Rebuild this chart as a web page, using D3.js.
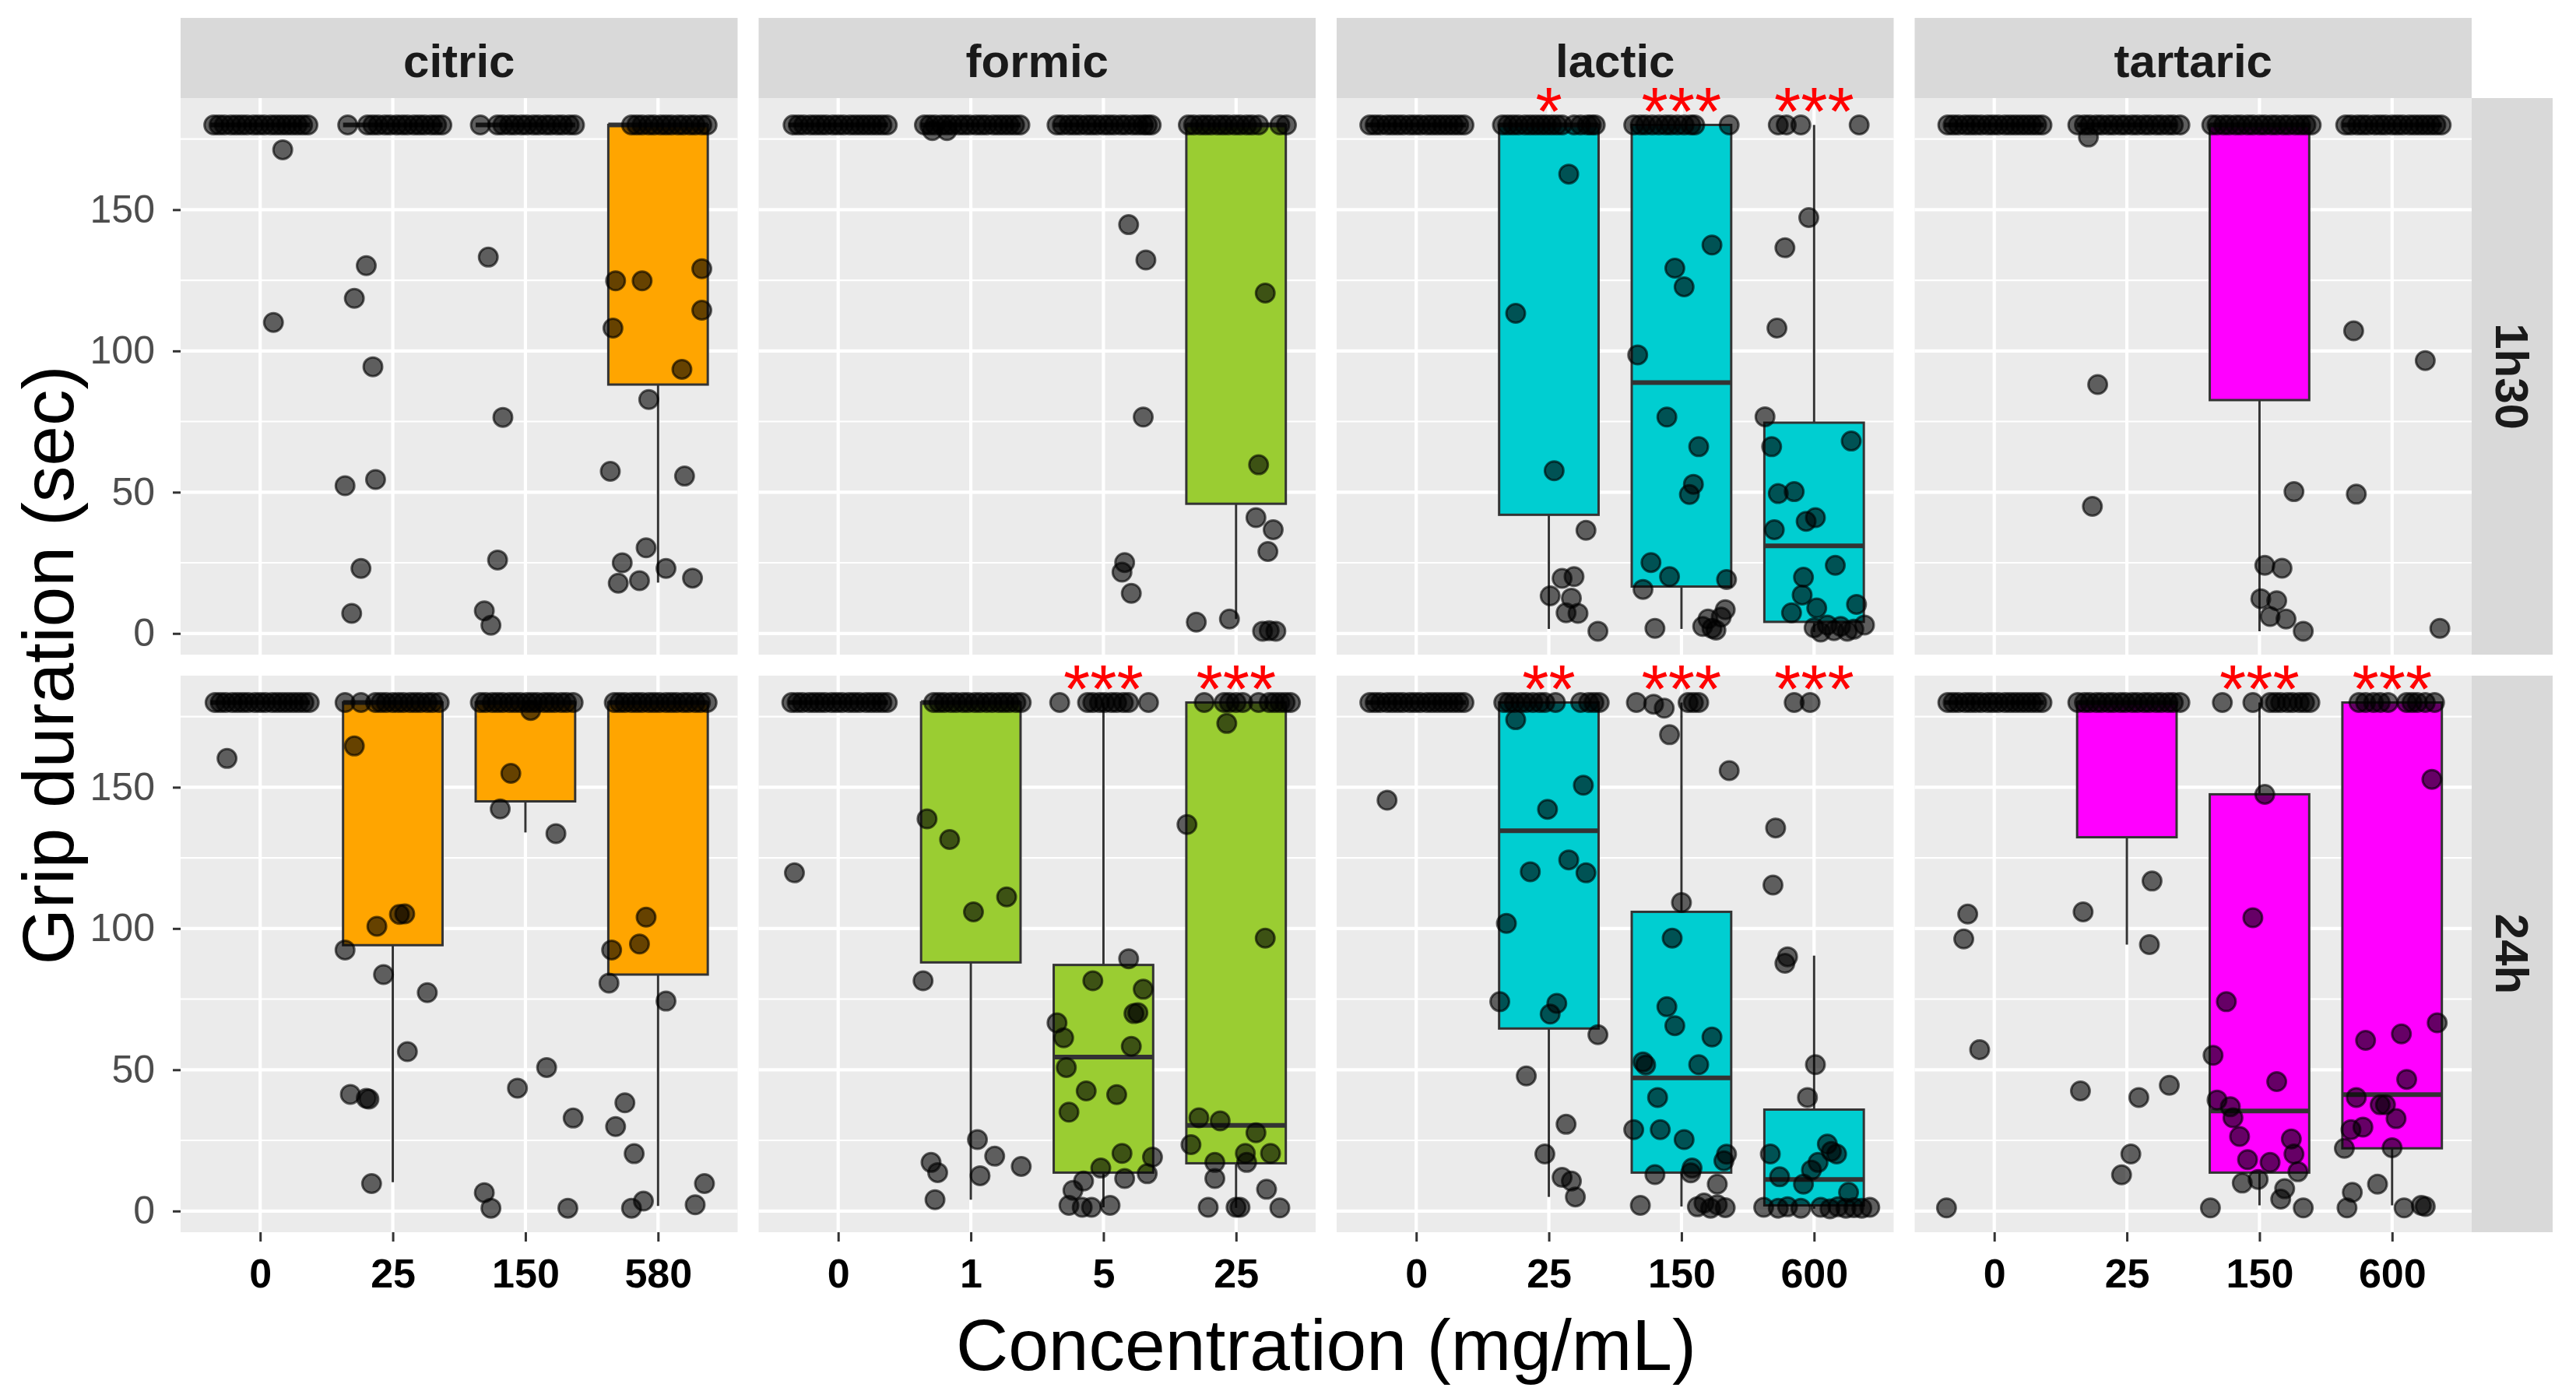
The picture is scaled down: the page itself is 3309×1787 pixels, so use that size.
<!DOCTYPE html>
<html lang="en">
<head>
<meta charset="UTF-8">
<title>Grip duration</title>
<script src="https://d3js.org/d3.v7.min.js"></script>
<style>
    body { margin: 0; background: #fff; }
    svg text { font-family: "Liberation Sans", Arial, sans-serif; }
</style>
</head>
<body>
<script>
    // facets
    const acids = ['citric', 'formic', 'lactic', 'tartaric'];
    const times = ['1h30', '24h'];
    const concLabels = [
        ['0', '25', '150', '580'],
        ['0', '1', '5', '25'],
        ['0', '25', '150', '600'],
        ['0', '25', '150', '600']
    ];
    const acidColors = ['#FFA500', '#9ACD32', '#00CED1', '#FF00FF'];
    const yTicks = [0, 50, 100, 150];

    // box stats per concentration: [whisker low, q1, median, q3, whisker high]
    const D = [180, 180, 180, 180, 180];
    const boxesCitric1h30 = [D, D, D, [18.0, 88.1, 180, 180, 180]];
    const boxesFormic1h30 = [D, D, D, [5.1, 45.9, 180, 180, 180]];
    const boxesLactic1h30 = [D, [1.6, 42.0, 180, 180, 180], [1.6, 16.6, 88.8, 180, 180], [0.5, 4.1, 31.0, 74.6, 180]];
    const boxesTartaric1h30 = [D, D, [0.8, 82.6, 180, 180, 180], D];
    const boxesCitric24h = [D, [10.2, 94.1, 180, 180, 180], [134, 145.0, 180, 180, 180], [1.8, 83.7, 180, 180, 180]];
    const boxesFormic24h = [D, [4.0, 88.0, 180, 180, 180], [1.3, 13.6, 54.5, 87.1, 180], [1.1, 16.9, 30.3, 180, 180]];
    const boxesLactic24h = [D, [5.0, 64.6, 134.6, 180, 180], [1.6, 13.6, 47.1, 105.9, 180], [0.8, 2.0, 11.2, 35.9, 90.4]];
    const boxesTartaric24h = [D, [94.3, 132.3, 180, 180, 180], [2.0, 13.6, 35.4, 147.5, 180], [2.0, 22.2, 41.2, 180, 180]];

    // points: [concentration index, jitter (category units), seconds]
    const citric1h30 = [
        [0,-0.35,180],[0,-0.31,180],[0,-0.27,180],[0,-0.22,180],[0,-0.18,180],[0,-0.14,180],[0,-0.10,180],[0,-0.05,180],[0,-0.01,180],
        [0,0.03,180],[0,0.08,180],[0,0.12,180],[0,0.16,180],[0,0.20,180],[0,0.24,180],[0,0.28,180],[0,0.32,180],[0,0.36,180],
        [0,0.17,171.2],[0,0.10,110.1],
        [1,-0.34,180],[1,-0.19,180],[1,-0.15,180],[1,-0.11,180],[1,-0.06,180],[1,-0.02,180],[1,0.03,180],[1,0.07,180],[1,0.11,180],
        [1,0.16,180],[1,0.20,180],[1,0.24,180],[1,0.29,180],[1,0.33,180],[1,0.37,180],
        [1,-0.20,130.2],[1,-0.29,118.6],[1,-0.15,94.4],[1,-0.36,52.3],[1,-0.13,54.5],[1,-0.24,23.0],[1,-0.31,7.1],
        [2,-0.34,180],[2,-0.21,180],[2,-0.17,180],[2,-0.12,180],[2,-0.08,180],[2,-0.03,180],[2,0.01,180],[2,0.06,180],[2,0.10,180],
        [2,0.15,180],[2,0.19,180],[2,0.24,180],[2,0.28,180],[2,0.33,180],[2,0.37,180],
        [2,-0.28,133.2],[2,-0.17,76.5],[2,-0.21,26.0],[2,-0.31,8.0],[2,-0.26,2.9],
        [3,-0.20,180],[3,-0.16,180],[3,-0.12,180],[3,-0.07,180],[3,-0.03,180],[3,0.02,180],[3,0.06,180],[3,0.10,180],[3,0.15,180],
        [3,0.19,180],[3,0.24,180],[3,0.28,180],[3,0.33,180],[3,0.37,180],
        [3,-0.32,124.8],[3,-0.12,124.8],[3,0.33,129.1],[3,0.33,114.4],[3,-0.34,108.1],[3,0.18,93.5],[3,-0.07,82.8],[3,-0.36,57.4],
        [3,0.20,55.7],[3,-0.09,30.3],[3,-0.27,25.0],[3,0.06,23.0],[3,-0.14,18.7],[3,-0.30,17.8],[3,0.26,19.6]
    ];
    const formic1h30 = [
        [0,-0.34,180],[0,-0.30,180],[0,-0.26,180],[0,-0.21,180],[0,-0.17,180],[0,-0.13,180],[0,-0.09,180],[0,-0.04,180],[0,0.00,180],
        [0,0.04,180],[0,0.09,180],[0,0.13,180],[0,0.17,180],[0,0.21,180],[0,0.25,180],[0,0.29,180],[0,0.33,180],[0,0.37,180],
        [1,-0.35,180],[1,-0.31,180],[1,-0.27,180],[1,-0.22,180],[1,-0.18,180],[1,-0.14,180],[1,-0.09,180],[1,-0.05,180],[1,-0.01,180],
        [1,0.04,180],[1,0.08,180],[1,0.12,180],[1,0.17,180],[1,0.21,180],[1,0.25,180],[1,0.29,180],[1,0.33,180],[1,0.37,180],
        [1,-0.29,178],[1,-0.18,178],
        [2,-0.35,180],[2,-0.31,180],[2,-0.26,180],[2,-0.22,180],[2,-0.18,180],[2,-0.13,180],[2,-0.09,180],[2,-0.05,180],[2,0.00,180],
        [2,0.04,180],[2,0.08,180],[2,0.13,180],[2,0.17,180],[2,0.22,180],[2,0.26,180],[2,0.30,180],[2,0.33,180],[2,0.36,180],
        [2,0.19,144.7],[2,0.32,132.2],[2,0.30,76.6],[2,0.16,25.1],[2,0.14,21.7],[2,0.21,14.2],
        [3,-0.36,180],[3,-0.32,180],[3,-0.27,180],[3,-0.23,180],[3,-0.19,180],[3,-0.14,180],[3,-0.10,180],[3,-0.06,180],[3,-0.01,180],
        [3,0.03,180],[3,0.08,180],[3,0.12,180],[3,0.17,180],[3,0.33,180],[3,0.38,180],
        [3,0.22,120.5],[3,0.17,59.7],[3,0.15,41.0],[3,0.28,36.7],[3,0.24,29.0],[3,-0.30,4.0],[3,-0.05,5.1],
        [3,0.20,0.8],[3,0.25,1.0],[3,0.30,0.8]
    ];
    const lactic1h30 = [
        [0,-0.35,180],[0,-0.31,180],[0,-0.27,180],[0,-0.22,180],[0,-0.18,180],[0,-0.14,180],[0,-0.10,180],[0,-0.05,180],[0,-0.01,180],
        [0,0.03,180],[0,0.08,180],[0,0.12,180],[0,0.16,180],[0,0.20,180],[0,0.24,180],[0,0.28,180],[0,0.32,180],[0,0.36,180],
        [1,-0.35,180],[1,-0.31,180],[1,-0.27,180],[1,-0.23,180],[1,-0.18,180],[1,-0.14,180],[1,-0.10,180],[1,-0.06,180],[1,-0.02,180],
        [1,0.02,180],[1,0.06,180],[1,0.10,180],[1,0.19,180],[1,0.24,180],[1,0.29,180],[1,0.32,180],[1,0.35,180],
        [1,0.15,162.6],[1,-0.25,113.3],[1,0.04,57.6],[1,0.28,36.5],[1,0.10,19.5],[1,0.19,20.1],[1,0.01,13.3],[1,0.17,12.5],
        [1,0.13,7.3],[1,0.22,7.1],[1,0.37,0.8],
        [2,-0.36,180],[2,-0.31,180],[2,-0.27,180],[2,-0.22,180],[2,-0.17,180],[2,-0.12,180],[2,-0.08,180],[2,-0.03,180],
        [2,0.02,180],[2,0.07,180],[2,0.10,180],[2,0.36,180],
        [2,0.23,137.5],[2,-0.05,129.3],[2,0.02,122.7],[2,-0.33,98.6],[2,-0.11,76.6],[2,0.13,66.1],[2,0.09,52.8],[2,0.06,49.2],
        [2,-0.23,25.1],[2,-0.09,20.1],[2,0.34,19.1],[2,-0.29,15.6],[2,-0.20,1.8],[2,0.16,2.5],[2,0.23,1.8],[2,0.30,5.8],
        [2,0.33,8.4],[2,0.26,1.2],[2,0.20,5.1],
        [3,-0.27,180],[3,-0.21,180],[3,-0.10,180],[3,0.34,180],
        [3,-0.04,147.2],[3,-0.22,136.5],[3,-0.28,108.1],[3,-0.37,76.7],[3,-0.32,66.1],[3,0.28,68.1],[3,-0.27,49.5],[3,-0.15,50.2],
        [3,-0.06,39.7],[3,0.01,41.0],[3,-0.30,36.7],[3,0.16,24.1],[3,-0.08,19.9],[3,-0.09,13.6],[3,0.02,9.0],[3,-0.17,7.3],
        [3,0.32,10.3],[3,0.00,2.0],[3,0.05,0.5],[3,0.10,3.0],[3,0.15,1.0],[3,0.20,2.5],[3,0.25,0.8],[3,0.30,1.5],[3,0.38,3.0]
    ];
    const tartaric1h30 = [
        [0,-0.35,180],[0,-0.31,180],[0,-0.27,180],[0,-0.22,180],[0,-0.18,180],[0,-0.14,180],[0,-0.10,180],[0,-0.05,180],[0,-0.01,180],
        [0,0.03,180],[0,0.08,180],[0,0.12,180],[0,0.16,180],[0,0.20,180],[0,0.24,180],[0,0.28,180],[0,0.32,180],[0,0.36,180],
        [1,-0.37,180],[1,-0.32,180],[1,-0.28,180],[1,-0.23,180],[1,-0.19,180],[1,-0.14,180],[1,-0.10,180],[1,-0.05,180],[1,-0.01,180],
        [1,0.04,180],[1,0.08,180],[1,0.13,180],[1,0.17,180],[1,0.22,180],[1,0.26,180],[1,0.31,180],[1,0.35,180],[1,0.40,180],
        [1,-0.29,175.7],[1,-0.22,88.1],[1,-0.26,45.0],
        [2,-0.36,180],[2,-0.32,180],[2,-0.27,180],[2,-0.23,180],[2,-0.18,180],[2,-0.14,180],[2,-0.09,180],[2,-0.05,180],[2,0.00,180],
        [2,0.04,180],[2,0.09,180],[2,0.13,180],[2,0.18,180],[2,0.22,180],[2,0.27,180],[2,0.31,180],[2,0.35,180],[2,0.39,180],
        [2,0.26,50.2],[2,0.04,24.1],[2,0.17,23.1],[2,0.01,12.3],[2,0.13,11.6],[2,0.08,6.0],[2,0.20,5.1],[2,0.33,0.8],
        [3,-0.35,180],[3,-0.31,180],[3,-0.26,180],[3,-0.22,180],[3,-0.18,180],[3,-0.13,180],[3,-0.09,180],[3,-0.05,180],[3,0.00,180],
        [3,0.04,180],[3,0.08,180],[3,0.13,180],[3,0.17,180],[3,0.21,180],[3,0.25,180],[3,0.29,180],[3,0.33,180],[3,0.37,180],
        [3,-0.29,107.1],[3,0.25,96.6],[3,-0.27,49.3],[3,0.36,1.8]
    ];
    const citric24h = [
        [0,-0.34,180],[0,-0.30,180],[0,-0.26,180],[0,-0.21,180],[0,-0.17,180],[0,-0.13,180],[0,-0.09,180],[0,-0.04,180],[0,0.00,180],
        [0,0.04,180],[0,0.09,180],[0,0.13,180],[0,0.17,180],[0,0.21,180],[0,0.25,180],[0,0.29,180],[0,0.33,180],[0,0.37,180],
        [0,-0.25,160.2],
        [1,-0.36,180],[1,-0.24,180],[1,-0.13,180],[1,-0.09,180],[1,-0.05,180],[1,0.00,180],[1,0.04,180],[1,0.08,180],[1,0.13,180],
        [1,0.17,180],[1,0.21,180],[1,0.26,180],[1,0.30,180],[1,0.35,180],
        [1,-0.29,164.6],[1,-0.36,92.4],[1,-0.07,83.7],[1,-0.12,100.8],[1,0.05,105.0],[1,0.09,105.2],[1,0.26,77.3],[1,0.11,56.4],
        [1,-0.32,41.3],[1,-0.20,39.9],[1,-0.18,39.6],[1,-0.16,9.7],
        [2,-0.34,180],[2,-0.30,180],[2,-0.25,180],[2,-0.21,180],[2,-0.17,180],[2,-0.12,180],[2,-0.08,180],[2,-0.04,180],[2,0.01,180],
        [2,0.05,180],[2,0.09,180],[2,0.14,180],[2,0.18,180],[2,0.22,180],[2,0.27,180],[2,0.31,180],[2,0.36,180],
        [2,0.04,177.2],[2,-0.11,154.9],[2,-0.19,142.3],[2,0.23,133.6],[2,0.16,50.8],[2,-0.06,43.5],[2,0.36,32.9],[2,-0.31,6.5],
        [2,-0.26,1.0],[2,0.32,1.0],
        [3,-0.33,180],[3,-0.29,180],[3,-0.25,180],[3,-0.20,180],[3,-0.16,180],[3,-0.12,180],[3,-0.07,180],[3,-0.03,180],[3,0.01,180],
        [3,0.06,180],[3,0.10,180],[3,0.14,180],[3,0.19,180],[3,0.23,180],[3,0.28,180],[3,0.32,180],[3,0.37,180],
        [3,-0.09,104.0],[3,-0.14,94.5],[3,-0.35,92.4],[3,-0.37,80.7],[3,0.06,74.3],[3,-0.25,38.3],[3,-0.32,29.9],[3,-0.18,20.3],
        [3,-0.11,3.5],[3,-0.20,1.0],[3,0.35,9.7],[3,0.28,2.2]
    ];
    const formic24h = [
        [0,-0.35,180],[0,-0.31,180],[0,-0.27,180],[0,-0.22,180],[0,-0.18,180],[0,-0.14,180],[0,-0.10,180],[0,-0.05,180],[0,-0.01,180],
        [0,0.03,180],[0,0.08,180],[0,0.12,180],[0,0.16,180],[0,0.21,180],[0,0.25,180],[0,0.29,180],[0,0.33,180],[0,0.37,180],
        [0,-0.33,119.7],
        [1,-0.28,180],[1,-0.24,180],[1,-0.20,180],[1,-0.15,180],[1,-0.11,180],[1,-0.06,180],[1,-0.02,180],[1,0.03,180],[1,0.07,180],
        [1,0.12,180],[1,0.16,180],[1,0.21,180],[1,0.25,180],[1,0.29,180],[1,0.34,180],[1,0.38,180],
        [1,-0.33,138.8],[1,-0.16,131.5],[1,0.02,105.9],[1,0.27,111.2],[1,-0.36,81.5],[1,0.05,25.3],[1,0.18,19.4],[1,-0.30,17.2],
        [1,-0.25,13.6],[1,0.07,12.5],[1,0.38,15.8],[1,-0.27,4.0],
        [2,-0.33,180],[2,-0.12,180],[2,-0.08,180],[2,-0.03,180],[2,0.01,180],[2,0.06,180],[2,0.10,180],[2,0.15,180],[2,0.19,180],
        [2,0.34,180],
        [2,0.19,89.3],[2,-0.08,81.5],[2,0.30,78.5],[2,0.23,69.9],[2,0.26,70.2],[2,-0.35,66.6],[2,-0.30,61.3],[2,0.21,58.3],
        [2,-0.28,50.8],[2,-0.13,42.5],[2,0.10,41.2],[2,-0.26,35.0],[2,0.14,20.4],[2,0.37,19.1],[2,-0.02,15.2],[2,0.33,13.2],
        [2,-0.15,10.6],[2,0.16,11.5],[2,-0.23,7.3],[2,-0.26,2.0],[2,-0.16,1.3],[2,-0.09,1.3],[2,0.05,2.0],
        [3,-0.24,180],[3,-0.09,180],[3,-0.05,180],[3,0.00,180],[3,0.05,180],[3,0.17,180],[3,0.25,180],[3,0.29,180],[3,0.33,180],
        [3,0.37,180],[3,0.41,180],
        [3,-0.07,172.6],[3,-0.37,136.8],[3,0.22,96.6],[3,-0.28,33.0],[3,-0.12,31.9],[3,0.15,27.7],[3,-0.34,23.5],[3,0.07,20.4],
        [3,0.26,20.4],[3,-0.16,17.2],[3,0.08,17.2],[3,-0.16,11.5],[3,0.23,7.7],[3,-0.21,1.3],[3,0.00,1.3],[3,0.03,1.3],[3,0.33,1.1]
    ];
    const lactic24h = [
        [0,-0.35,180],[0,-0.31,180],[0,-0.27,180],[0,-0.22,180],[0,-0.18,180],[0,-0.14,180],[0,-0.10,180],[0,-0.05,180],[0,-0.01,180],
        [0,0.03,180],[0,0.08,180],[0,0.12,180],[0,0.16,180],[0,0.20,180],[0,0.24,180],[0,0.28,180],[0,0.32,180],[0,0.36,180],
        [0,-0.22,145.4],
        [1,-0.34,180],[1,-0.30,180],[1,-0.26,180],[1,-0.21,180],[1,-0.17,180],[1,-0.12,180],[1,-0.07,180],[1,-0.03,180],[1,0.05,180],
        [1,0.24,180],[1,0.30,180],[1,0.34,180],[1,0.38,180],
        [1,-0.25,173.9],[1,0.26,150.7],[1,-0.01,142.2],[1,0.15,124.3],[1,-0.14,120.1],[1,0.28,119.7],[1,-0.32,101.8],[1,-0.37,74.1],
        [1,0.06,73.5],[1,0.01,69.7],[1,0.37,62.4],[1,-0.17,47.8],[1,0.13,30.7],[1,-0.03,20.2],[1,0.10,11.9],[1,0.17,10.6],[1,0.20,5.0],
        [2,-0.34,180],[2,0.05,180],[2,0.09,180],[2,0.13,180],[2,-0.21,179.4],[2,-0.13,178.0],
        [2,-0.09,168.6],[2,0.36,155.9],[2,0.00,109.2],[2,-0.07,96.6],[2,-0.11,72.3],[2,-0.05,65.6],[2,0.23,61.6],[2,-0.29,52.8],
        [2,-0.27,51.7],[2,0.13,51.8],[2,-0.18,40.2],[2,-0.36,28.8],[2,-0.16,28.8],[2,0.02,25.3],[2,0.34,20.1],[2,0.32,17.8],
        [2,-0.20,12.9],[2,0.08,15.2],[2,0.07,13.5],[2,0.27,9.5],[2,-0.31,2.0],[2,0.12,1.5],[2,0.17,2.8],[2,0.22,1.0],[2,0.27,2.2],
        [2,0.33,1.2],
        [3,-0.15,180],[3,-0.03,180],
        [3,-0.29,135.6],[3,-0.31,115.4],[3,-0.20,90.0],[3,-0.22,87.7],[3,0.01,51.8],[3,-0.05,40.2],[3,-0.33,20.2],[3,0.10,23.7],
        [3,0.13,21.1],[3,0.17,20.2],[3,0.03,17.2],[3,-0.02,14.5],[3,-0.26,12.1],[3,-0.08,9.5],[3,0.26,6.6],[3,-0.38,1.3],
        [3,-0.27,1.0],[3,-0.20,1.5],[3,-0.10,1.0],[3,0.05,1.3],[3,0.12,0.8],[3,0.18,1.5],[3,0.24,1.0],[3,0.30,1.2],[3,0.36,1.0],
        [3,0.42,1.3]
    ];
    const tartaric24h = [
        [0,-0.35,180],[0,-0.31,180],[0,-0.27,180],[0,-0.22,180],[0,-0.18,180],[0,-0.14,180],[0,-0.10,180],[0,-0.05,180],[0,-0.01,180],
        [0,0.03,180],[0,0.08,180],[0,0.12,180],[0,0.16,180],[0,0.20,180],[0,0.24,180],[0,0.28,180],[0,0.32,180],[0,0.36,180],
        [0,-0.20,105.1],[0,-0.23,96.3],[0,-0.11,57.1],[0,-0.36,1.1],
        [1,-0.37,180],[1,-0.32,180],[1,-0.28,180],[1,-0.23,180],[1,-0.19,180],[1,-0.14,180],[1,-0.10,180],[1,-0.05,180],[1,-0.01,180],
        [1,0.04,180],[1,0.08,180],[1,0.13,180],[1,0.17,180],[1,0.22,180],[1,0.26,180],[1,0.31,180],[1,0.35,180],[1,0.40,180],
        [1,0.19,116.8],[1,-0.33,105.9],[1,0.17,94.3],[1,-0.35,42.5],[1,0.09,40.2],[1,0.32,44.5],[1,0.03,20.2],[1,-0.04,12.8],
        [2,-0.28,180],[2,-0.05,180],[2,0.08,180],[2,0.12,180],[2,0.16,180],[2,0.21,180],[2,0.25,180],[2,0.30,180],[2,0.34,180],
        [2,0.38,180],
        [2,0.04,147.5],[2,-0.05,103.8],[2,-0.25,74.1],[2,-0.35,55.1],[2,0.13,45.8],[2,-0.32,39.3],[2,-0.22,36.9],[2,-0.20,33.0],
        [2,-0.15,26.4],[2,0.24,25.5],[2,0.26,20.2],[2,-0.09,18.2],[2,0.08,17.2],[2,0.29,13.9],[2,-0.13,9.9],[2,-0.01,11.2],
        [2,0.19,7.9],[2,0.16,4.2],[2,-0.37,1.1],[2,0.33,1.1],
        [3,-0.25,180],[3,-0.20,180],[3,-0.14,180],[3,-0.09,180],[3,-0.03,180],[3,0.11,180],[3,0.15,180],[3,0.19,180],[3,0.25,180],
        [3,0.32,180],
        [3,0.30,152.8],[3,0.34,66.6],[3,-0.20,60.4],[3,0.07,62.7],[3,0.11,46.6],[3,-0.27,40.2],[3,-0.09,37.6],[3,-0.05,37.6],
        [3,0.03,32.7],[3,-0.31,28.8],[3,-0.22,29.7],[3,-0.36,22.2],[3,0.00,22.4],[3,-0.11,9.5],[3,-0.30,6.6],[3,-0.34,1.1],
        [3,0.09,1.1],[3,0.22,2.0],[3,0.25,1.6]
    ];

    // significance marks: [time, acid, concentration index, label]
    const stars = [
        ['1h30', 'lactic', 1, '*'], ['1h30', 'lactic', 2, '***'], ['1h30', 'lactic', 3, '***'],
        ['24h', 'formic', 2, '***'], ['24h', 'formic', 3, '***'],
        ['24h', 'lactic', 1, '**'], ['24h', 'lactic', 2, '***'], ['24h', 'lactic', 3, '***'],
        ['24h', 'tartaric', 2, '***'], ['24h', 'tartaric', 3, '***']
    ];

    const boxSets = [
        [boxesCitric1h30, boxesFormic1h30, boxesLactic1h30, boxesTartaric1h30],
        [boxesCitric24h, boxesFormic24h, boxesLactic24h, boxesTartaric24h]
    ];
    const pointSets = [
        [citric1h30, formic1h30, lactic1h30, tartaric1h30],
        [citric24h, formic24h, lactic24h, tartaric24h]
    ];

    const width = 3309, height = 1787;
    const panelW = 715.5, panelH = 715, left0 = 232, top0 = 126, gap = 27;
    const stripH = 103, stripW = 104;

    const svg = d3.select('body').append('svg').attr('width', width).attr('height', height);

    const y = d3.scaleLinear().domain([-7.5, 189.5]).range([panelH, 0]);
    const x = d3.scaleLinear().domain([0.4, 4.6]).range([0, panelW]);
    const boxHalf = 0.375;
    const panelPos = (r, c) => [left0 + c * (panelW + gap), top0 + r * (panelH + gap)];

    times.forEach((t, r) => {
        acids.forEach((a, c) => {
            const [px, py] = panelPos(r, c);
            const g = svg.append('g').attr('transform', `translate(${px},${py})`);

            g.append('rect').attr('width', panelW).attr('height', panelH).attr('fill', '#EBEBEB');

            // grid
            g.selectAll('.minor').data([25, 75, 125, 175]).join('line')
                .attr('x1', 0).attr('x2', panelW).attr('y1', d => y(d)).attr('y2', d => y(d))
                .attr('stroke', '#fff').attr('stroke-width', 2.1);
            g.selectAll('.major').data(yTicks).join('line')
                .attr('x1', 0).attr('x2', panelW).attr('y1', d => y(d)).attr('y2', d => y(d))
                .attr('stroke', '#fff').attr('stroke-width', 4.2);
            g.selectAll('.vgrid').data([1, 2, 3, 4]).join('line')
                .attr('x1', d => x(d)).attr('x2', d => x(d)).attr('y1', 0).attr('y2', panelH)
                .attr('stroke', '#fff').attr('stroke-width', 4.2);

            // boxplots
            const boxes = boxSets[r][c];
            const bg = g.append('g');
            boxes.forEach((b, i) => {
                const cx = x(i + 1);
                bg.append('line').attr('x1', cx).attr('x2', cx).attr('y1', y(b[3])).attr('y2', y(b[4]))
                    .attr('stroke', '#333').attr('stroke-width', 3);
                bg.append('line').attr('x1', cx).attr('x2', cx).attr('y1', y(b[1])).attr('y2', y(b[0]))
                    .attr('stroke', '#333').attr('stroke-width', 3);
                bg.append('rect')
                    .attr('x', x(i + 1 - boxHalf)).attr('width', x(i + 1 + boxHalf) - x(i + 1 - boxHalf))
                    .attr('y', y(b[3])).attr('height', y(b[1]) - y(b[3]))
                    .attr('fill', acidColors[c]).attr('stroke', '#333').attr('stroke-width', 3);
                bg.append('line').attr('x1', x(i + 1 - boxHalf)).attr('x2', x(i + 1 + boxHalf))
                    .attr('y1', y(b[2])).attr('y2', y(b[2]))
                    .attr('stroke', '#333').attr('stroke-width', 6);
            });

            // jittered points
            g.append('g').selectAll('circle').data(pointSets[r][c]).join('circle')
                .attr('cx', d => x(d[0] + 1 + d[1]))
                .attr('cy', d => y(d[2]))
                .attr('r', 12)
                .attr('fill', '#000').attr('fill-opacity', 0.6)
                .attr('stroke', '#000').attr('stroke-opacity', 0.6).attr('stroke-width', 3);

            // top strip
            if (r === 0) {
                g.append('rect').attr('y', -stripH).attr('width', panelW).attr('height', stripH).attr('fill', '#D9D9D9');
                g.append('text').attr('x', panelW / 2).attr('y', -stripH / 2 + 24)
                    .attr('text-anchor', 'middle').attr('font-size', 60).attr('font-weight', 'bold')
                    .attr('fill', '#1A1A1A').text(a);
            }
            // right strip
            if (c === acids.length - 1) {
                g.append('rect').attr('x', panelW).attr('width', stripW).attr('height', panelH).attr('fill', '#D9D9D9');
                g.append('text')
                    .attr('transform', `translate(${panelW + stripW / 2 - 21},${panelH / 2}) rotate(90)`)
                    .attr('text-anchor', 'middle').attr('font-size', 60).attr('font-weight', 'bold')
                    .attr('fill', '#1A1A1A').text(t);
            }

            // axes
            if (c === 0) {
                const ya = g.append('g').call(d3.axisLeft(y).tickValues(yTicks).tickSize(10).tickPadding(23));
                ya.select('.domain').remove();
                ya.selectAll('line').attr('stroke', '#333').attr('stroke-width', 3);
                ya.selectAll('text').attr('font-size', 50).attr('fill', '#4D4D4D')
                    .style('font-family', '"Liberation Sans", Arial, sans-serif');
            }
            if (r === times.length - 1) {
                const xa = g.append('g').attr('transform', `translate(0,${panelH})`)
                    .call(d3.axisBottom(x).tickValues([1, 2, 3, 4]).tickFormat(d => concLabels[c][d - 1])
                        .tickSize(12).tickPadding(22));
                xa.select('.domain').remove();
                xa.selectAll('line').attr('stroke', '#333').attr('stroke-width', 3);
                xa.selectAll('text').attr('font-size', 52).attr('font-weight', 'bold').attr('fill', '#000')
                    .style('font-family', '"Liberation Sans", Arial, sans-serif');
            }
        });
    });

    // significance stars on top of everything (they overlap the strips)
    svg.append('g').selectAll('text').data(stars).join('text')
        .attr('x', d => panelPos(0, acids.indexOf(d[1]))[0] + x(d[2] + 1))
        .attr('y', d => panelPos(times.indexOf(d[0]), 0)[1] + y(190.5) + 0.58 * 88)
        .attr('text-anchor', 'middle')
        .attr('font-size', 88)
        .attr('fill', '#FF0000')
        .text(d => d[3]);

    // axis titles
    const plotRight = left0 + acids.length * panelW + (acids.length - 1) * gap;
    svg.append('text')
        .attr('x', (left0 + plotRight) / 2).attr('y', 1760)
        .attr('text-anchor', 'middle').attr('font-size', 93).attr('fill', '#000')
        .text('Concentration (mg/mL)');
    svg.append('text')
        .attr('transform', `translate(94,${top0 + panelH + gap / 2}) rotate(-90)`)
        .attr('text-anchor', 'middle').attr('font-size', 93).attr('fill', '#000')
        .text('Grip duration (sec)');
</script>
</body>
</html>
